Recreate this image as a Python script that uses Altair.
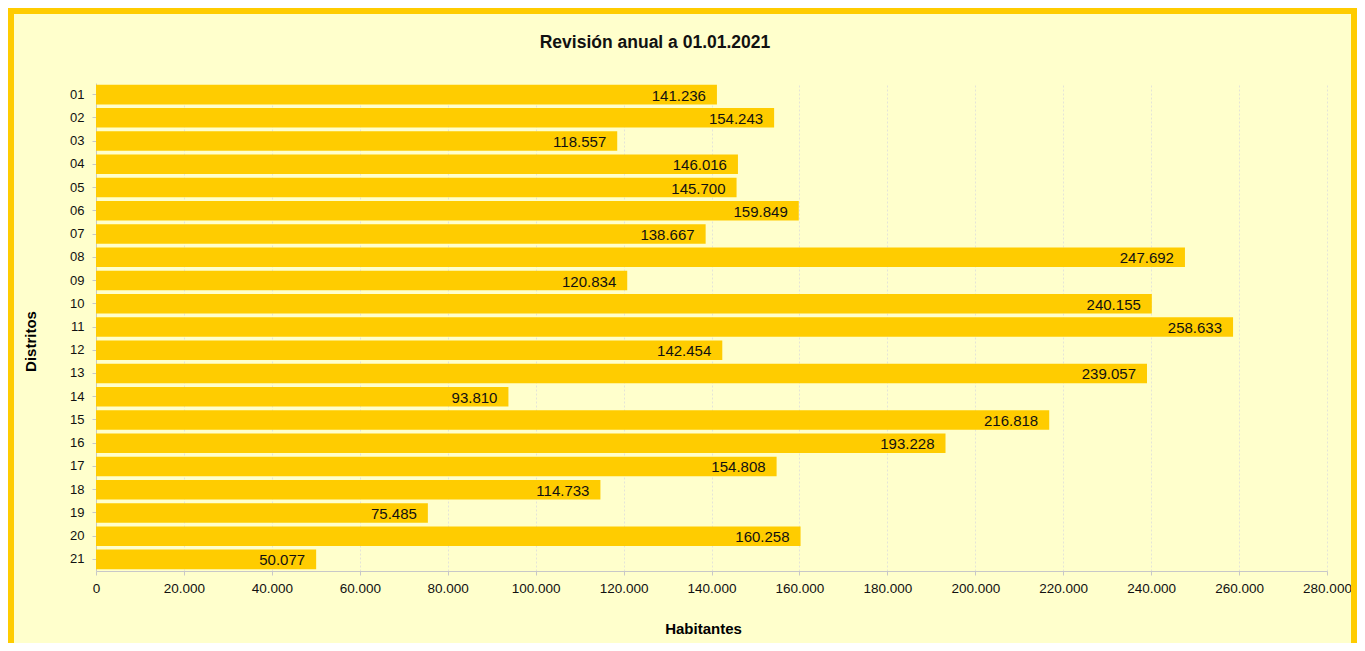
import altair as alt
import pandas as pd

distritos = ["01", "02", "03", "04", "05", "06", "07", "08", "09", "10", "11",
             "12", "13", "14", "15", "16", "17", "18", "19", "20", "21"]
habitantes = [141236, 154243, 118557, 146016, 145700, 159849, 138667, 247692,
              120834, 240155, 258633, 142454, 239057, 93810, 216818, 193228,
              154808, 114733, 75485, 160258, 50077]
titulo = "Revisión anual a 01.01.2021"

df = pd.DataFrame({"Distrito": distritos, "Habitantes": habitantes})
df["Etiqueta"] = [f"{v:,}".replace(",", ".") for v in habitantes]

FONT = "Liberation Sans"
W, H = 1231, 488
PL, PT, PR, PB = 88, 75, 30, 72

y_enc = alt.Y("Distrito:N", sort=distritos,
              scale=alt.Scale(paddingInner=0.16, paddingOuter=0.08),
              axis=alt.Axis(title="Distritos", labelFontSize=13, labelPadding=8,
                            tickSize=4, grid=False, domainColor="#c8c8c8",
                            tickColor="#c8c8c8", labelColor="#111",
                            titleFontSize=15, titleFontWeight="bold",
                            titleX=-66, titleY=258, titleAngle=270,
                            titleAlign="center", titleBaseline="middle"))
x_enc = alt.X("Habitantes:Q",
              scale=alt.Scale(domain=[0, 280000], nice=False),
              axis=alt.Axis(title="Habitantes", values=list(range(0, 280001, 20000)),
                            labelExpr="replace(format(datum.value, ','), ',', '.')",
                            labelFontSize=13.5, labelPadding=6, tickSize=4,
                            labelFlush=False, labelOverlap=False,
                            grid=True, gridColor="#e4e4d8", gridDash=[2, 2],
                            domainColor="#c8c8c8", tickColor="#c8c8c8",
                            labelColor="#111",
                            titleFontSize=15, titleFontWeight="bold",
                            titleX=607, titleY=57, titleAlign="center",
                            titleBaseline="middle"))

bars = alt.Chart(df).mark_bar(color="#FFCC00").encode(y=y_enc, x=x_enc)
labels = alt.Chart(df).mark_text(align="right", baseline="middle", dx=-11, dy=1,
                                 fontSize=15, font=FONT, color="#111").encode(
    y=alt.Y("Distrito:N", sort=distritos), x="Habitantes:Q", text="Etiqueta:N")

frame = alt.Chart(alt.Data(values=[{}])).mark_rect(
    fill=None, stroke="#FFCC00", strokeWidth=6, clip=False).encode(
    x=alt.value(-PL + 3), x2=alt.value(W + PR - 3),
    y=alt.value(-PT + 3), y2=alt.value(H + PB + 40))

title = alt.Chart(alt.Data(values=[{"t": titulo}])).mark_text(
    font=FONT, fontSize=17.5, fontWeight="bold", color="#111",
    align="center", baseline="middle", clip=False).encode(
    x=alt.value(559), y=alt.value(-40), text="t:N")

chart = alt.layer(bars, labels, frame, title).properties(
    width=W, height=H,
    autosize=alt.AutoSizeParams(type="none"),
    padding={"left": PL, "top": PT, "right": PR, "bottom": PB},
    background="#FFFFCC",
).configure(font=FONT).configure_view(stroke=None)

chart.save("out.html", embed_options={"renderer": "svg", "actions": False})
